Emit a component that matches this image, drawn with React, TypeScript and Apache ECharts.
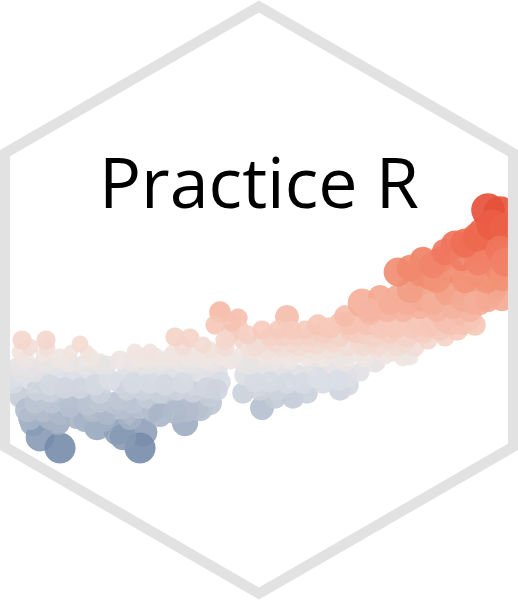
import React, { useEffect, useRef } from "react";
import * as echarts from "echarts";

// Each point: [x, y (measured downward), size]
const deepBlue = [
  [33, 423, 22], [40, 437, 24], [60, 448, 26], [97, 427, 22], [117, 432, 22], [103, 420, 20],
  [58, 423, 20], [143, 432, 24], [185, 423, 22], [140, 448, 26], [123, 437, 22],
  [30, 418, 20], [50, 418, 20], [85, 420, 20], [130, 418, 20],
];
const blueGray = [
  [20, 397, 18], [27, 410, 20], [43, 410, 20], [60, 413, 20], [77, 417, 20], [93, 410, 20],
  [107, 413, 20], [67, 397, 18], [83, 400, 18], [113, 403, 18], [127, 397, 18], [123, 407, 20],
  [140, 407, 20], [153, 410, 20], [170, 403, 20], [200, 408, 22], [210, 403, 20], [197, 407, 20],
  [210, 397, 18], [262, 408, 20], [293, 398, 18], [243, 393, 18], [307, 393, 18], [340, 390, 18],
  [348, 385, 18], [35, 403, 18], [52, 403, 18], [70, 407, 18], [88, 405, 18], [100, 402, 18],
  [120, 400, 18], [133, 403, 18], [147, 398, 18], [163, 400, 18], [180, 400, 18], [187, 410, 20],
  [160, 415, 20], [175, 412, 20], [275, 398, 18],
];
const gray = [
  [13, 383, 18], [27, 377, 18], [40, 380, 18], [57, 378, 18], [73, 380, 18], [87, 377, 18],
  [103, 373, 18], [120, 383, 18], [37, 390, 18], [50, 392, 18], [100, 393, 18], [127, 375, 18],
  [140, 377, 18], [157, 375, 18], [170, 377, 18], [187, 373, 18], [200, 378, 18], [217, 373, 18],
  [220, 382, 18], [245, 375, 18], [127, 390, 18], [143, 390, 18], [160, 393, 18], [177, 390, 18],
  [193, 392, 18], [247, 375, 18], [263, 372, 18], [280, 373, 18], [297, 375, 18], [313, 372, 18],
  [330, 370, 18], [347, 377, 18], [360, 372, 16], [260, 390, 18], [277, 390, 18], [323, 383, 18],
  [20, 372, 18], [35, 372, 18], [50, 385, 18], [65, 388, 18], [80, 388, 18], [95, 385, 18],
  [110, 380, 18], [133, 383, 18], [150, 383, 18], [165, 385, 18], [183, 383, 18], [207, 388, 18],
  [217, 390, 18], [255, 382, 18], [270, 382, 18], [287, 383, 18], [303, 383, 18], [318, 378, 18],
  [338, 380, 18],
];
const light = [
  [17, 367, 16], [30, 368, 16], [43, 363, 16], [53, 365, 16], [70, 363, 16], [83, 365, 16],
  [100, 363, 16], [107, 365, 16], [133, 362, 16], [147, 365, 16], [163, 362, 16], [180, 363, 16],
  [197, 365, 16], [213, 362, 16], [230, 360, 16], [243, 363, 16], [240, 357, 16], [257, 360, 16],
  [273, 362, 16], [290, 360, 16], [307, 357, 16], [323, 358, 16], [340, 357, 16], [357, 353, 16],
  [375, 363, 16], [377, 363, 14], [410, 357, 14], [403, 358, 14], [25, 360, 16], [60, 358, 16],
  [90, 358, 16], [120, 360, 16], [140, 358, 16], [155, 357, 16], [170, 358, 16], [188, 357, 16],
  [205, 358, 16], [222, 356, 16], [250, 365, 16], [265, 355, 16], [280, 355, 16], [298, 352, 16],
  [315, 352, 16], [330, 350, 16], [345, 362, 16], [365, 358, 16], [385, 355, 16], [393, 352, 16],
];
const palePink = [
  [20, 352, 14], [43, 355, 12], [47, 348, 14], [71, 352, 12], [87, 352, 12], [135, 352, 14],
  [173, 353, 14], [193, 353, 14], [243, 340, 16], [250, 350, 16], [267, 350, 16], [283, 348, 16],
  [300, 347, 16], [317, 345, 16], [333, 343, 16], [347, 347, 16], [363, 347, 16], [377, 348, 16],
  [360, 343, 16], [380, 345, 16], [397, 347, 16], [260, 343, 16], [30, 347, 14], [150, 352, 14],
  [183, 347, 14], [210, 350, 14], [225, 347, 16], [255, 347, 16], [275, 343, 16], [292, 343, 16],
  [308, 343, 16], [325, 340, 16], [340, 338, 16], [370, 343, 16], [390, 340, 16], [405, 343, 16],
  [415, 347, 16], [428, 340, 16], [445, 337, 16],
];
const pink = [
  [22, 340, 16], [46, 340, 16], [80, 344, 14], [175, 337, 16], [190, 338, 16], [203, 345, 14],
  [230, 333, 16], [238, 318, 16], [240, 330, 16], [220, 312, 18], [232, 322, 16], [287, 317, 20],
  [270, 337, 16], [283, 337, 16], [297, 337, 16], [310, 337, 16], [323, 333, 18], [340, 323, 18],
  [350, 330, 18], [363, 333, 18], [373, 327, 18], [357, 333, 18], [373, 337, 18], [390, 333, 18],
  [407, 337, 18], [423, 333, 18], [440, 330, 18], [457, 330, 18], [350, 323, 20], [367, 323, 20],
  [383, 320, 20], [400, 323, 20], [417, 320, 20], [433, 320, 20], [450, 323, 20], [463, 323, 20],
  [460, 313, 20], [215, 325, 16], [225, 340, 16], [248, 335, 16], [262, 330, 16], [278, 330, 16],
  [292, 330, 16], [305, 330, 16], [318, 325, 18], [330, 328, 18], [345, 316, 18], [380, 328, 18],
  [395, 328, 18], [412, 328, 18], [428, 327, 18], [445, 320, 20], [470, 318, 20], [475, 325, 18],
];
const salmon = [
  [362, 303, 24], [370, 313, 20], [380, 297, 20], [397, 297, 20], [413, 300, 20], [427, 297, 20],
  [440, 300, 20], [450, 297, 20], [467, 297, 20], [480, 297, 20], [493, 293, 20], [370, 310, 20],
  [387, 310, 20], [403, 310, 20], [420, 307, 20], [437, 310, 20], [453, 307, 20], [470, 310, 20],
  [480, 303, 20], [417, 290, 22], [427, 290, 22], [443, 287, 22], [460, 287, 22], [480, 290, 22],
  [390, 303, 20], [407, 303, 20], [423, 300, 20], [433, 303, 20], [447, 293, 20], [463, 300, 20],
  [475, 303, 20], [488, 300, 20], [497, 285, 22], [502, 298, 22], [410, 290, 22],
];
const red = [
  [398, 272, 24], [423, 260, 22], [440, 260, 22], [450, 270, 22], [473, 273, 22], [487, 280, 22],
  [430, 277, 22], [420, 273, 22], [455, 245, 24], [473, 247, 24], [487, 253, 24], [498, 267, 24],
  [483, 233, 26], [497, 240, 26], [488, 210, 28], [500, 213, 28], [437, 280, 22], [465, 280, 22],
  [502, 278, 22], [410, 268, 22], [433, 265, 22], [445, 252, 22], [462, 258, 22], [478, 262, 22],
  [465, 243, 24], [477, 237, 24], [492, 225, 26], [505, 228, 26], [500, 250, 24], [505, 262, 24],
];

const palette = [
  "#e34a33", "#ec6249", "#f07a60", "#f29478", "#f5b09b", "#f6cbbd",
  "#f0e6e2", "#dadee5", "#bac3d1", "#92a3bb", "#6b83a4",
];

const title = "Practice R";

export default function App() {
  const ref = useRef<HTMLDivElement>(null);
  useEffect(() => {
    document.body.style.margin = "0";
    const chart = echarts.init(ref.current!, undefined, { renderer: "svg" });
    const W = 518, H = 600;
    const cx = W / 2, cy = H / 2, R = 293.5;
    const hex: number[][] = [];
    for (let i = 0; i < 6; i++) {
      const a = (Math.PI / 180) * (-90 + 60 * i);
      hex.push([cx + R * Math.cos(a), cy + R * Math.sin(a)]);
    }
    const data = [
      ...deepBlue, ...blueGray, ...gray, ...light, ...palePink, ...pink, ...salmon, ...red,
    ];
    chart.setOption({
      animation: false,
      grid: { left: 0, right: 0, top: 0, bottom: 0 },
      xAxis: { type: "value", min: 0, max: W, show: false },
      yAxis: { type: "value", min: 0, max: H, inverse: true, show: false },
      visualMap: {
        show: false,
        type: "continuous",
        dimension: 1,
        min: 205,
        max: 455,
        inRange: { color: palette },
      },
      series: [
        {
          type: "scatter",
          data,
          symbolSize: (v: number[]) => v[2] * 1.2,
          itemStyle: { opacity: 0.9 },
        },
      ],
      graphic: [
        {
          type: "polygon",
          z: 100,
          shape: { points: hex },
          style: { fill: "none", stroke: "#e2e2e2", lineWidth: 10.5, lineJoin: "miter" },
        },
        {
          type: "text",
          z: 100,
          x: cx,
          y: 181,
          style: {
            text: title,
            fill: "#000",
            font: '70px "Open Sans"',
            align: "center",
            verticalAlign: "middle",
          },
        },
      ],
    });
    return () => chart.dispose();
  }, []);
  return <div ref={ref} style={{ width: 518, height: 600 }} />;
}
